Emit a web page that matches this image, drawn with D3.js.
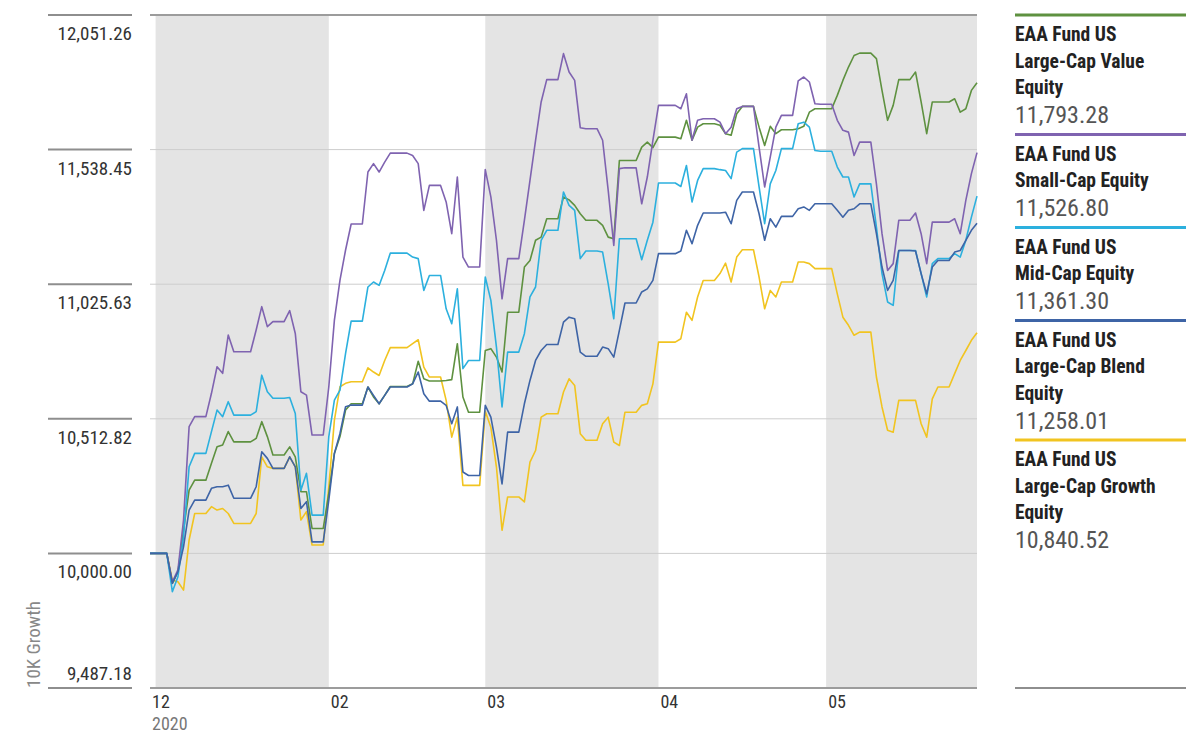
<!DOCTYPE html>
<html>
<head>
<meta charset="utf-8">
<script src="https://cdn.jsdelivr.net/npm/d3@7"></script>
<style>
  html, body { margin: 0; padding: 0; background: #fff; }
  svg { display: block; }
  .narrow { font-family: "Liberation Sans Narrow", "Arial Narrow", "Roboto Condensed", "DejaVu Sans Condensed", sans-serif; }
</style>
</head>
<body>
<svg id="chart" width="1203" height="741"></svg>
<script>
// ---------------- DATA ----------------
const startDate = "2020-12-31"; // first daily point; one value per calendar day
const seriesNames = [
  "EAA Fund US\nLarge-Cap Value\nEquity",
  "EAA Fund US\nSmall-Cap Equity",
  "EAA Fund US\nMid-Cap Equity",
  "EAA Fund US\nLarge-Cap Blend\nEquity",
  "EAA Fund US\nLarge-Cap Growth\nEquity"
];
const seriesColors = ["#5e9140", "#7f63b0", "#2cb0de", "#3e64a6", "#f1c420"];

const largeValue = [
  10000, 10000, 10000, 10000,
  9886, 9930, 10089, 10241, 10279, 10279, 10279,
  10343, 10406, 10413, 10464, 10425, 10425, 10425,
  10425, 10438, 10502, 10445, 10375, 10375, 10375,
  10406, 10368, 10235, 10235, 10095, 10095, 10095,
  10229, 10381, 10445, 10546, 10570, 10570, 10570,
  10634, 10596, 10570, 10602, 10636, 10636, 10636,
  10636, 10646, 10732, 10665, 10657, 10657, 10657,
  10659, 10662, 10799, 10596, 10538, 10538, 10538,
  10773, 10780, 10748, 10691, 10919, 10919, 10919,
  11091, 11116, 11193, 11205, 11275, 11275, 11275,
  11358, 11347, 11326, 11294, 11269, 11269, 11269,
  11250, 11205, 11199, 11497, 11497, 11497, 11497,
  11548, 11567, 11546, 11586, 11586, 11586, 11586,
  11580, 11650, 11574, 11624, 11637, 11637, 11637,
  11631, 11599, 11593, 11675, 11703, 11703, 11703,
  11624, 11554, 11627, 11599, 11614, 11614, 11614,
  11618, 11627, 11681, 11694, 11694, 11694, 11694,
  11745, 11802, 11853, 11897, 11906, 11906, 11906,
  11885, 11764, 11650, 11707, 11805, 11805, 11805,
  11834, 11720, 11599, 11720, 11720, 11720, 11720,
  11732, 11681, 11694, 11764, 11793.28
];
const smallCap = [
  10000, 10000, 10000, 10000,
  9892, 9937, 10127, 10483, 10521, 10521, 10521,
  10610, 10711, 10686, 10832, 10768, 10768, 10768,
  10768, 10851, 10940, 10864, 10883, 10883, 10883,
  10925, 10838, 10616, 10603, 10451, 10451, 10451,
  10635, 10889, 11041, 11156, 11255, 11255, 11255,
  11453, 11485, 11453, 11491, 11525, 11525, 11525,
  11525, 11516, 11485, 11307, 11402, 11402, 11402,
  11339, 11218, 11434, 11129, 11091, 11091, 11091,
  11462, 11358, 11193, 10970, 11123, 11123, 11123,
  11269, 11421, 11574, 11720, 11805, 11805, 11805,
  11904, 11834, 11802, 11622, 11618, 11618, 11618,
  11574, 11383, 11173, 11466, 11469, 11469, 11469,
  11332, 11434, 11574, 11707, 11707, 11707, 11707,
  11694, 11751, 11574, 11650, 11656, 11656, 11656,
  11643, 11599, 11624, 11694, 11703, 11703, 11703,
  11548, 11396, 11510, 11624, 11669, 11669, 11669,
  11800, 11815, 11796, 11713, 11711, 11711, 11711,
  11650, 11612, 11605, 11516, 11567, 11567, 11567,
  11408, 11218, 11078, 11104, 11269, 11269, 11269,
  11297, 11218, 11104, 11262, 11262, 11262, 11262,
  11275, 11218, 11345, 11447, 11526.80
];
const midCap = [
  10000, 10000, 10000, 10000,
  9854, 9911, 10064, 10330, 10381, 10381, 10381,
  10464, 10546, 10521, 10578, 10527, 10527, 10527,
  10527, 10540, 10679, 10616, 10591, 10591, 10591,
  10594, 10533, 10241, 10305, 10146, 10146, 10146,
  10445, 10584, 10622, 10762, 10885, 10885, 10885,
  11015, 11034, 11021, 11078, 11144, 11144, 11144,
  11144, 11129, 11123, 11002, 11059, 11059, 11059,
  10932, 10875, 11008, 10704, 10735, 10735, 10735,
  11053, 10964, 10786, 10558, 10767, 10767, 10767,
  10837, 10977, 11015, 11193, 11231, 11231, 11231,
  11377, 11326, 11307, 11123, 11152, 11152, 11152,
  11148, 11027, 10894, 11199, 11199, 11199, 11199,
  11119, 11193, 11262, 11411, 11411, 11411, 11411,
  11398, 11478, 11339, 11421, 11466, 11466, 11466,
  11462, 11459, 11428, 11529, 11542, 11542, 11542,
  11396, 11256, 11408, 11459, 11542, 11542, 11542,
  11637, 11643, 11624, 11535, 11532, 11532, 11532,
  11472, 11434, 11434, 11358, 11408, 11408, 11408,
  11243, 11066, 10958, 10945, 11154, 11154, 11154,
  11154, 11066, 10977, 11104, 11123, 11123, 11123,
  11142, 11129, 11193, 11281, 11361.30
];
const largeBlend = [
  10000, 10000, 10000, 10000,
  9886, 9930, 10025, 10165, 10203, 10203, 10203,
  10248, 10254, 10254, 10260, 10210, 10210, 10210,
  10210, 10254, 10387, 10362, 10324, 10324, 10324,
  10368, 10330, 10171, 10197, 10044, 10044, 10044,
  10203, 10381, 10457, 10559, 10565, 10565, 10565,
  10634, 10602, 10570, 10602, 10634, 10634, 10634,
  10634, 10646, 10691, 10608, 10580, 10580, 10580,
  10564, 10494, 10558, 10310, 10297, 10297, 10297,
  10564, 10519, 10405, 10265, 10462, 10462, 10462,
  10570, 10659, 10735, 10773, 10796, 10796, 10796,
  10881, 10900, 10894, 10767, 10751, 10751, 10751,
  10786, 10780, 10748, 10850, 10954, 10954, 10954,
  10996, 11008, 11040, 11142, 11142, 11142, 11142,
  11152, 11231, 11180, 11250, 11297, 11297, 11297,
  11297, 11300, 11256, 11345, 11377, 11377, 11377,
  11294, 11193, 11275, 11243, 11284, 11284, 11284,
  11313, 11320, 11307, 11332, 11332, 11332, 11332,
  11307, 11281, 11307, 11313, 11332, 11332, 11332,
  11218, 11091, 11002, 11040, 11154, 11154, 11154,
  11152, 11066, 10989, 11091, 11116, 11116, 11116,
  11148, 11154, 11193, 11231, 11258.01
];
const largeGrowth = [
  10000, 10000, 10000, 10000,
  9898, 9892, 9860, 10051, 10152, 10152, 10152,
  10178, 10165, 10171, 10152, 10114, 10114, 10114,
  10114, 10152, 10368, 10330, 10324, 10324, 10324,
  10368, 10330, 10127, 10159, 10032, 10032, 10032,
  10254, 10508, 10635, 10648, 10654, 10654, 10654,
  10707, 10691, 10678, 10735, 10784, 10784, 10784,
  10784, 10799, 10814, 10710, 10672, 10672, 10672,
  10583, 10443, 10519, 10259, 10259, 10259, 10259,
  10542, 10481, 10329, 10088, 10215, 10215, 10215,
  10196, 10348, 10392, 10519, 10532, 10532, 10532,
  10615, 10665, 10640, 10456, 10431, 10431, 10431,
  10494, 10519, 10424, 10411, 10538, 10538, 10538,
  10564, 10570, 10646, 10805, 10805, 10805, 10805,
  10818, 10919, 10888, 10977, 11040, 11040, 11040,
  11066, 11106, 11034, 11129, 11157, 11157, 11157,
  11053, 10932, 11002, 10977, 11034, 11034, 11034,
  11110, 11110, 11104, 11085, 11085, 11085, 11085,
  10989, 10900, 10869, 10831, 10843, 10843, 10843,
  10672, 10558, 10469, 10462, 10583, 10583, 10583,
  10583, 10494, 10443, 10589, 10634, 10634, 10634,
  10685, 10735, 10773, 10812, 10840.52
];
const allSeries = [largeValue, smallCap, midCap, largeBlend, largeGrowth];

const yTickValues = [9487.18, 10000.00, 10512.82, 11025.63, 11538.45, 12051.26];
const xTickDates = ["2020-12-31", "2021-02-01", "2021-03-01", "2021-04-01", "2021-05-01"];
const xTickLabels = ["12", "02", "03", "04", "05"];
const xYearLabel = "2020";
const shadedMonths = ["2021-01-01", "2021-03-01", "2021-05-01"];
const yAxisTitle = "10K Growth";

// ---------------- CHART ----------------
const svg = d3.select("#chart");
const parse = d3.utcParse("%Y-%m-%d");
const t0 = parse(startDate);
const dates = d3.range(largeValue.length).map(i => d3.utcDay.offset(t0, i));
const tEnd = dates[dates.length - 1];

const plot = { left: 150, right: 977, top: 15, bottom: 688 };
const x = d3.scaleUtc().domain([t0, tEnd]).range([plot.left, plot.right]);
const y = d3.scaleLinear().domain([yTickValues[0], yTickValues[yTickValues.length - 1]]).range([plot.bottom, plot.top]);
const fmt = d3.format(",.2f");

// shaded months
svg.append("g").selectAll("rect").data(shadedMonths.map(parse)).join("rect")
  .attr("x", d => x(d))
  .attr("width", d => Math.min(x(d3.utcMonth.offset(d, 1)), plot.right) - x(d))
  .attr("y", plot.top)
  .attr("height", plot.bottom - plot.top)
  .attr("fill", "#e4e4e4");

// gridlines
const inner = yTickValues.slice(1, -1);
svg.append("g").selectAll("line").data(inner).join("line")
  .attr("x1", plot.left).attr("x2", plot.right)
  .attr("y1", d => y(d)).attr("y2", d => y(d))
  .attr("stroke", "#cdcdcd").attr("stroke-width", 1);
svg.append("g").selectAll("line").data([yTickValues[0], yTickValues[yTickValues.length - 1]]).join("line")
  .attr("x1", plot.left).attr("x2", plot.right)
  .attr("y1", d => y(d)).attr("y2", d => y(d))
  .attr("stroke", "#9c9c9c").attr("stroke-width", 2);

// y tick marks and labels (left)
const yg = svg.append("g");
yg.selectAll("line").data(yTickValues).join("line")
  .attr("x1", 48).attr("x2", 132)
  .attr("y1", d => y(d)).attr("y2", d => y(d))
  .attr("stroke", "#8e8e8e").attr("stroke-width", 2);
yg.selectAll("text").data(yTickValues).join("text")
  .attr("class", "narrow")
  .attr("x", 132)
  .attr("y", (d, i) => i === 0 ? y(d) - 8 : y(d) + 25)
  .attr("text-anchor", "end")
  .attr("font-size", 19)
  .attr("fill", "#333")
  .text(d => fmt(d));

// y title
svg.append("text")
  .attr("class", "narrow")
  .attr("transform", `translate(40,${plot.bottom}) rotate(-90)`)
  .attr("text-anchor", "start")
  .attr("font-size", 19)
  .attr("fill", "#888")
  .text(yAxisTitle);

// x labels
const xg = svg.append("g");
xg.selectAll("text").data(xTickDates).join("text")
  .attr("class", "narrow")
  .attr("x", d => x(parse(d)) + 2)
  .attr("y", 708)
  .attr("font-size", 18)
  .attr("fill", "#333")
  .text((d, i) => xTickLabels[i]);
xg.append("text")
  .attr("class", "narrow")
  .attr("x", x(t0) + 2)
  .attr("y", 730)
  .attr("font-size", 18)
  .attr("fill", "#777")
  .text(xYearLabel);

// lines
const line = d3.line().x((d, i) => x(dates[i])).y(d => y(d));
const drawOrder = [4, 0, 1, 2, 3];
svg.append("g").selectAll("path").data(drawOrder).join("path")
  .attr("d", k => line(allSeries[k]))
  .attr("fill", "none")
  .attr("stroke", k => seriesColors[k])
  .attr("stroke-width", 1.6)
  .attr("stroke-linejoin", "round");

// legend
const lg = svg.append("g");
const lx0 = 1015, lx1 = 1186, lineH = 26.5;
let ly = 15;
seriesNames.forEach((name, k) => {
  const parts = name.split("\n");
  lg.append("line").attr("x1", lx0).attr("x2", lx1).attr("y1", ly).attr("y2", ly)
    .attr("stroke", seriesColors[k]).attr("stroke-width", 3);
  parts.forEach((p, j) => {
    lg.append("text").attr("class", "narrow")
      .attr("x", lx0).attr("y", ly + 26 + j * lineH)
      .attr("font-size", 19.5).attr("font-weight", "bold").attr("fill", "#222")
      .text(p);
  });
  const series = allSeries[k];
  lg.append("text").attr("class", "narrow")
    .attr("x", lx0).attr("y", ly + 26 + (parts.length - 1) * lineH + 29)
    .attr("font-size", 24).attr("fill", "#555")
    .text(fmt(series[series.length - 1]));
  ly += parts.length * lineH + 40;
});
lg.append("line").attr("x1", lx0).attr("x2", lx1).attr("y1", plot.bottom).attr("y2", plot.bottom)
  .attr("stroke", "#8e8e8e").attr("stroke-width", 2);
</script>
</body>
</html>
